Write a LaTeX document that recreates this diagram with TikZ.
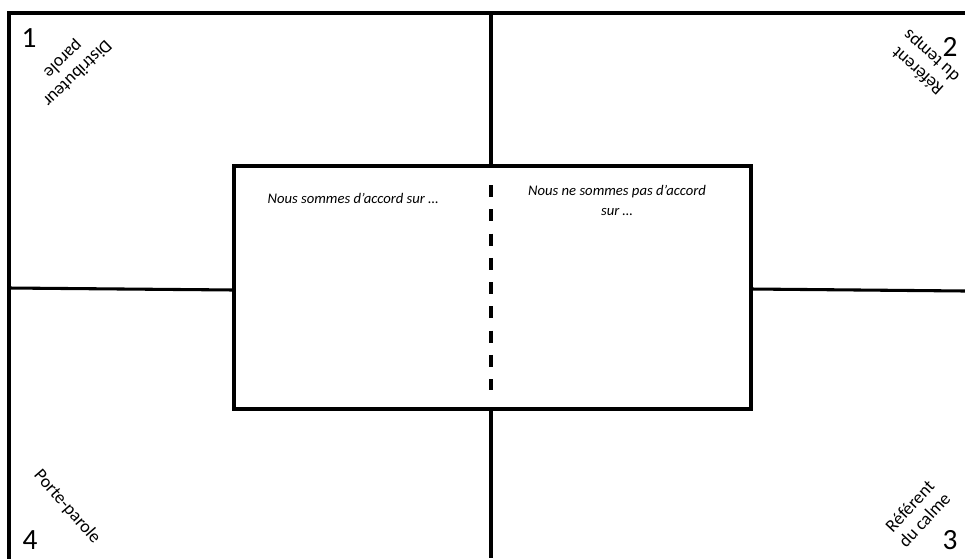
\documentclass[tikz,border=0pt]{standalone}
\usepackage{fontspec}
\setmainfont{Carlito}
\begin{document}
\begin{tikzpicture}[x=0.75pt,y=-0.75pt,
  rule/.style={line width=2.3pt},
  corner/.style={font=\fontsize{22}{26}\selectfont},
  role/.style={font=\fontsize{13.5}{15}\selectfont, align=center, inner sep=0pt},
  note/.style={font=\fontsize{11}{15}\selectfont\itshape, align=center, inner sep=0pt}]
\useasboundingbox (0,0) rectangle (965,558);
% central box
\node[draw, rule, minimum width=517*0.75pt, minimum height=243*0.75pt, inner sep=0pt] (box) at (492.5,287.5) {};
% frame coordinates
\coordinate (tl) at (9,13);
\coordinate (bl) at (9,558);
\coordinate (tr) at (965,13);
\coordinate (tm) at (491,13);
\coordinate (bm) at (491,558);
\coordinate (lm) at (9,288);
\coordinate (rm) at (965,291);
\coordinate (boxl) at (234,290);
\coordinate (boxr) at (751,289);
\coordinate (dtop) at (491,185);
\coordinate (dbot) at (491,390);
\draw[rule, line cap=rect] (bl) -- (tl) -- (tr);
\draw[rule] (tm) -- (box.north -| tm);
\draw[rule] (box.south -| bm) -- (bm);
\draw[rule] (lm) -- (boxl);
\draw[rule] (boxr) -- (rm);
\draw[rule, dash pattern=on 9pt off 9.2pt] (dtop) -- (dbot);
% corner numbers
\node[corner] (n1) at (29,38) {1};
\node[corner] (n2) at (950,47) {2};
\node[corner] (n3) at (950,540) {3};
\node[corner] (n4) at (30,540) {4};
% roles
\node[role, rotate=-136] (r1) at (70,66) {Distributeur\\parole};
\node[role, rotate=138] (r2) at (925,63) {Référent\\du temps};
\node[role, rotate=-49] (r4) at (67,507) {Porte-parole};
\node[role, rotate=47] (r3) at (917,513) {Référent\\du calme};
% notes
\node[note] (a1) at (353,198) {Nous sommes d’accord sur …};
\node[note] (a2) at (617,200) {Nous ne sommes pas d’accord\\sur …};
\end{tikzpicture}
\end{document}
